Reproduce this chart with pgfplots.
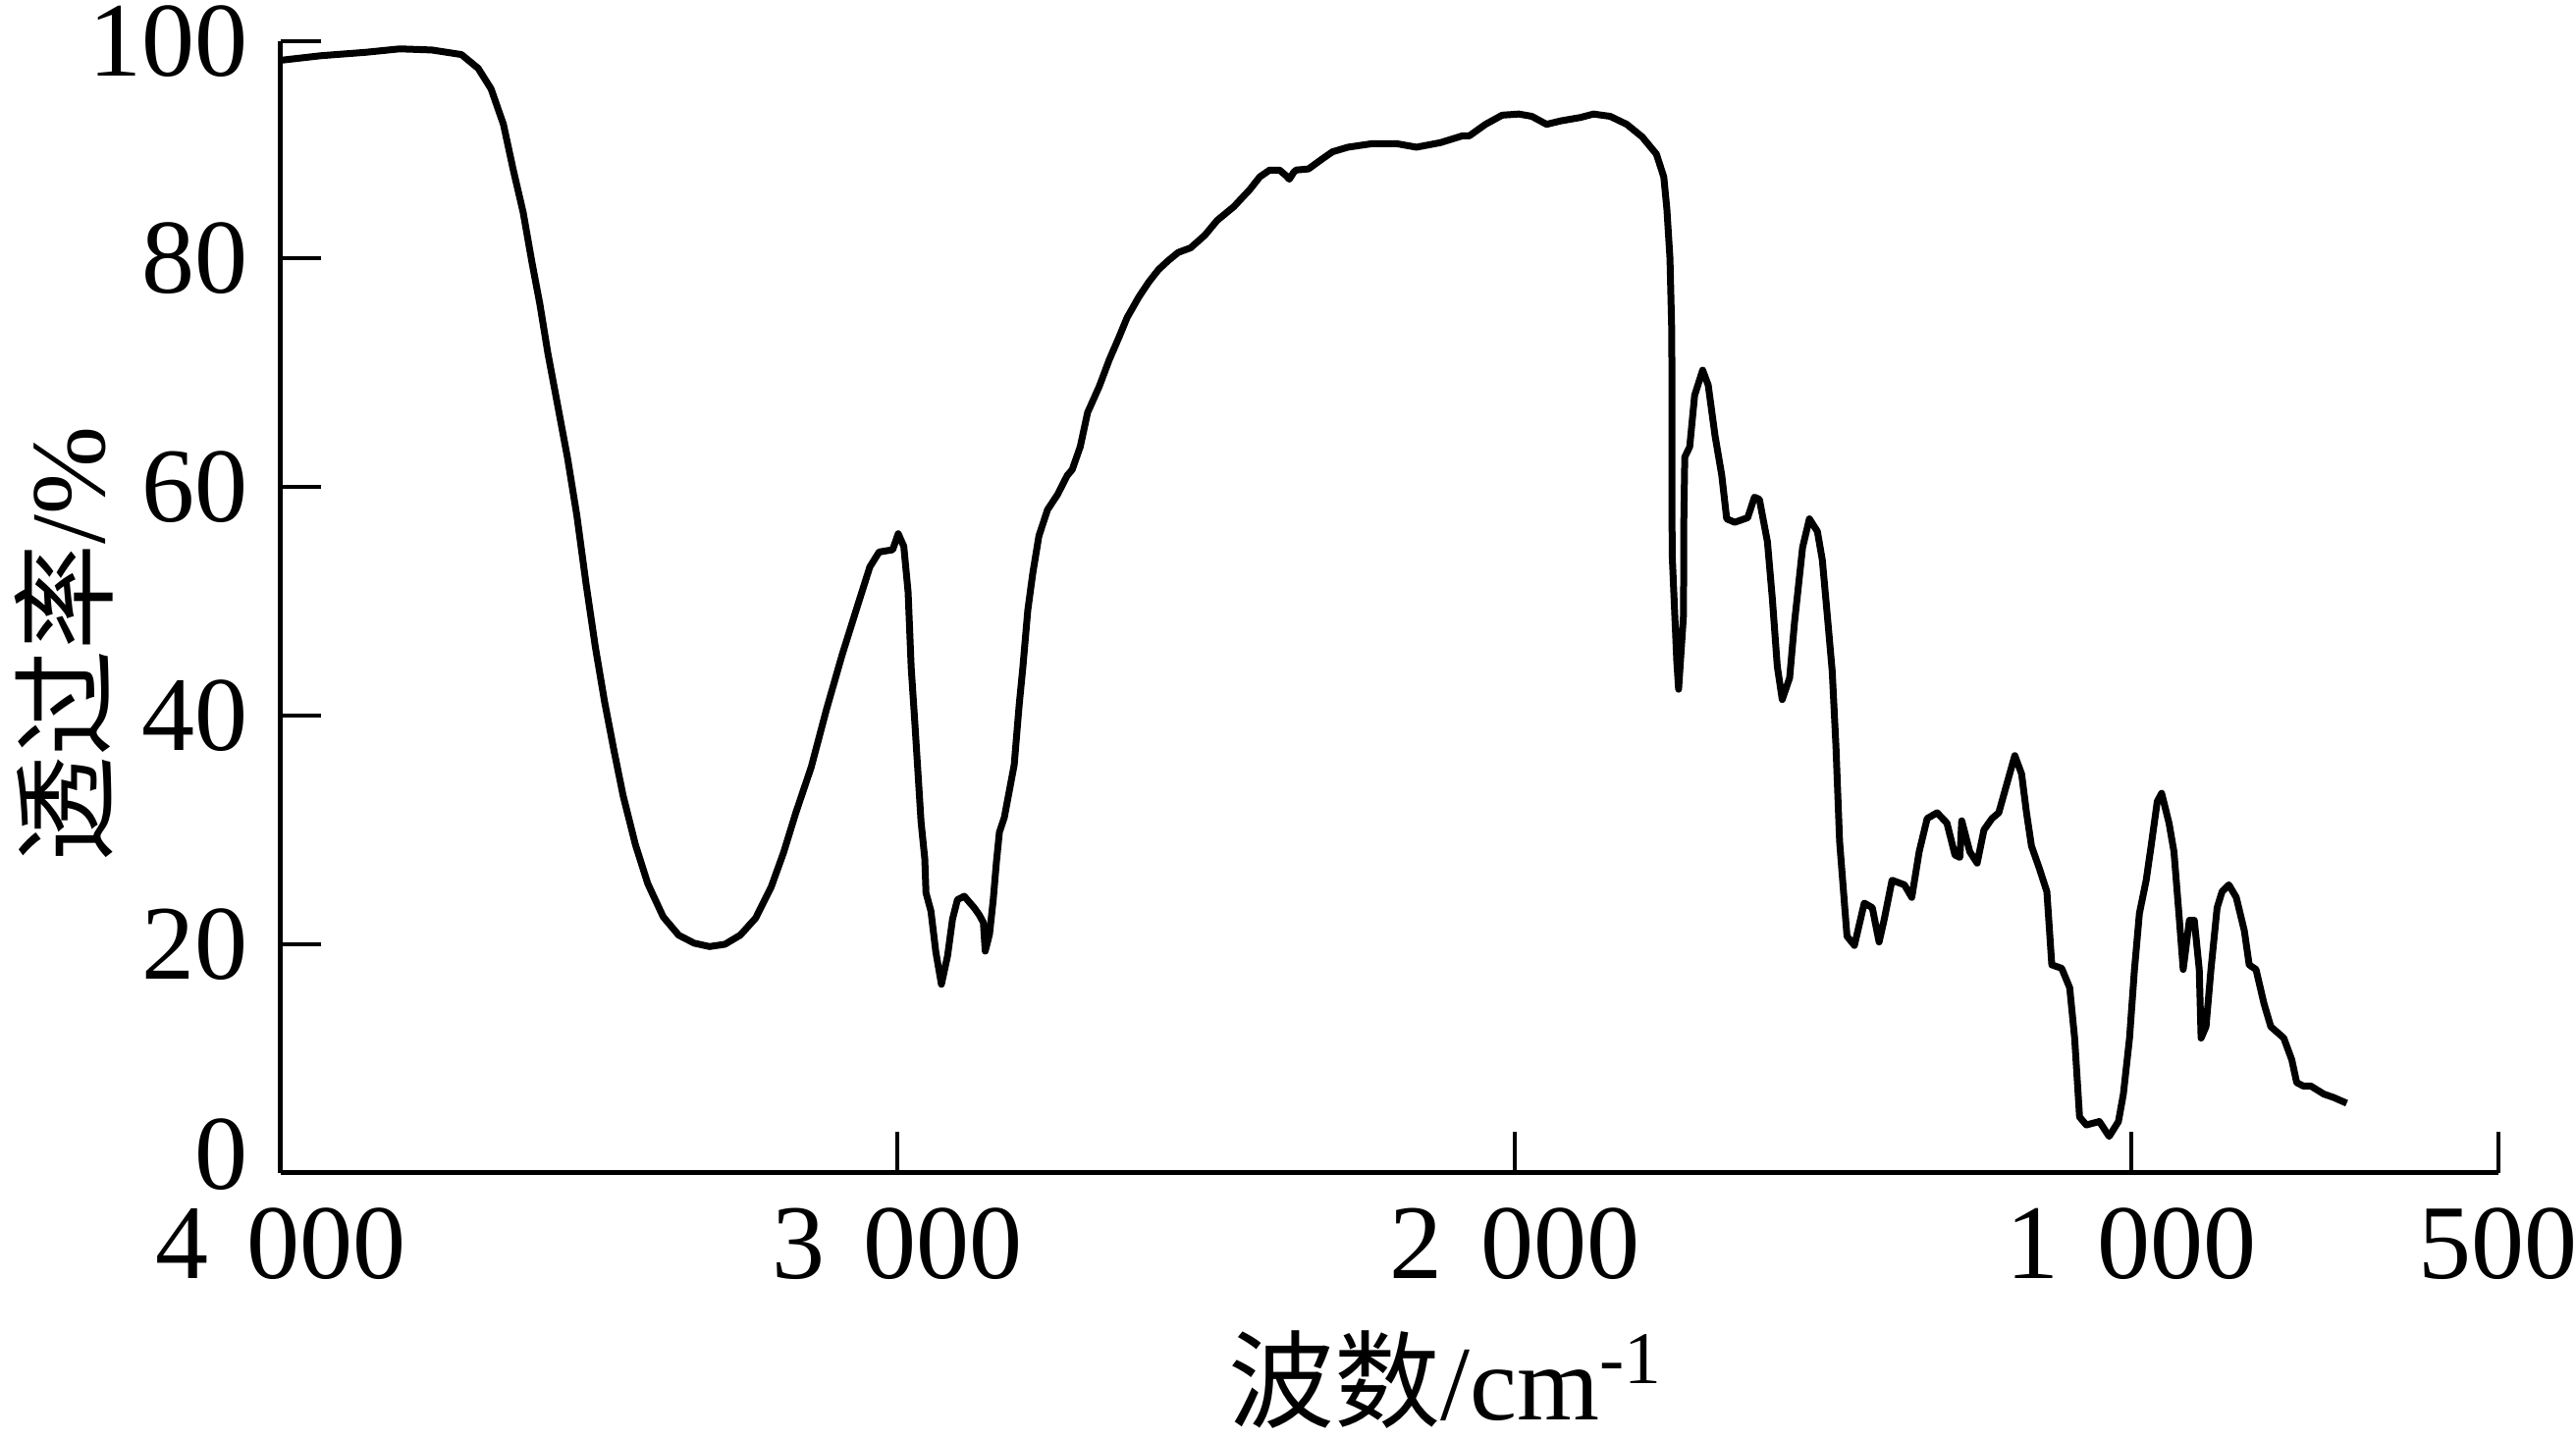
\documentclass[border=0pt]{standalone}
\usepackage{fontspec}
\setmainfont{Liberation Serif}
\newfontfamily\cjk{Noto Sans CJK SC}
\usepackage{pgfplots}
\pgfplotsset{compat=1.18}
\begin{document}
\fontsize{21.6pt}{26pt}\selectfont
\begin{tikzpicture}
\begin{axis}[
  scale only axis,
  width=451.8pt, height=230.6pt,
  x dir=reverse,
  xmin=405, xmax=4000,
  ymin=0, ymax=98.97,
  axis x line=bottom, axis y line=left,
  axis line style={-, line width=1pt},
  tick align=inside,
  major tick length=8.3pt,
  tick style={line width=0.8pt, black},
  xtick={4000,3000,2000,1000,405},
  xticklabels={4\hspace{0.36em}000,3\hspace{0.36em}000,2\hspace{0.36em}000,1\hspace{0.36em}000,500},
  ytick={0,20,40,60,80,98.97},
  yticklabels={\raisebox{4pt}[14.6pt][0pt]{0},20,40,60,80,100},
  minor tick num=0,
  xticklabel style={inner sep=0pt, yshift=-7pt, font=\fontsize{21.6pt}{26pt}\selectfont},
  yticklabel style={inner sep=0pt, xshift=-6.4pt, font=\fontsize{21.6pt}{26pt}\selectfont},
  every axis x label/.style={at={(axis description cs:0.5255,-0.183)}, anchor=center, font=\fontsize{21.6pt}{26pt}\selectfont},
  every axis y label/.style={at={(axis description cs:-0.0978,0.467)}, rotate=90, anchor=center, font=\fontsize{21.6pt}{26pt}\selectfont},
  xlabel={{\cjk 波数}/cm\textsuperscript{-1}},
  ylabel={{\cjk 透过率}/\%},
]
\addplot[black, line width=1.4pt, line join=round, mark=none] coordinates {
(4000,97.3)(3935,97.7)(3862,98.0)(3807,98.3)(3755,98.2)(3707,97.8)(3680,96.6)(3659,94.8)
(3639,91.7)(3623,87.7)(3607,84.0)(3593,79.7)(3580,76.0)(3567,71.7)(3551,67.1)(3535,62.5)
(3520,57.5)(3505,51.5)(3490,46.0)(3475,41.2)(3460,37.0)(3445,33.0)(3425,28.7)(3405,25.3)
(3380,22.4)(3355,20.8)(3330,20.1)(3305,19.8)(3280,20.0)(3255,20.8)(3230,22.3)(3205,25.0)
(3185,28.0)(3165,31.5)(3140,35.5)(3115,40.6)(3090,45.3)(3065,49.6)(3045,53.0)(3030,54.3)
(3008,54.5)(2999,55.9)(2990,54.8)(2983,50.8)(2978,44.2)(2972,39.3)(2967,35.0)(2962,30.7)
(2956,27.5)(2954,24.5)(2946,22.9)(2938,19.3)(2929,16.5)(2919,19.0)(2911,22.2)(2903,23.9)
(2892,24.2)(2876,23.2)(2868,22.6)(2861,21.9)(2858,19.4)(2851,20.9)(2845,23.9)(2840,27.1)
(2835,29.8)(2827,31.1)(2819,33.4)(2811,35.7)(2803,40.9)(2797,44.2)(2789,49.2)(2781,52.4)
(2771,55.7)(2757,58.0)(2741,59.3)(2725,61.0)(2717,61.5)(2704,63.5)(2692,66.5)(2673,68.8)
(2657,71.1)(2641,73.1)(2628,74.8)(2609,76.6)(2593,77.9)(2577,79.0)(2561,79.8)(2545,80.5)
(2525,80.9)(2502,82.0)(2482,83.3)(2455,84.5)(2429,86.0)(2413,87.1)(2397,87.7)(2381,87.7)
(2370,87.2)(2365,86.9)(2358,87.5)(2354,87.7)(2334,87.8)(2311,88.7)(2295,89.3)(2270,89.7)
(2232,90.0)(2190,90.0)(2159,89.7)(2120,90.1)(2084,90.7)(2073,90.7)(2047,91.7)(2020,92.5)
(1993,92.6)(1972,92.4)(1948,91.7)(1925,92.0)(1893,92.3)(1872,92.6)(1845,92.4)(1818,91.7)
(1793,90.6)(1770,89.1)(1758,87.1)(1753,84.3)(1748,80.0)(1745,73.4)(1744.5,54.2)(1737,44.8)
(1734,42.3)(1726,48.8)(1725.5,57.1)(1724,62.6)(1716,63.5)(1708,68.0)(1695,70.2)(1686,68.9)
(1675,64.5)(1664,61.0)(1656,57.2)(1643,56.9)(1622,57.3)(1611,59.1)(1603,58.9)(1590,55.2)
(1582,50.2)(1574,44.3)(1566,41.4)(1554,43.3)(1546,48.2)(1533,54.7)(1522,57.2)(1509,56.1)
(1501,53.6)(1493,48.8)(1485,43.9)(1479,37.4)(1473,29.0)(1461,20.7)(1449,19.9)(1433,23.6)
(1420,23.2)(1409,20.2)(1401,22.1)(1388,25.6)(1368,25.2)(1356,24.1)(1344,28.1)(1331,31.0)
(1315,31.5)(1299,30.6)(1286,27.8)(1278,27.6)(1275,30.8)(1262,28.1)(1250,27.1)(1239,30.0)
(1226,31.0)(1215,31.5)(1202,34.0)(1189,36.5)(1178,34.9)(1170,31.5)(1162,28.6)(1149,26.6)
(1137,24.6)(1129,18.2)(1113,17.9)(1100,16.2)(1092,11.8)(1084,4.9)(1073,4.2)(1052,4.5)
(1036,3.2)(1021,4.5)(1013,6.9)(1003,11.8)(995,17.8)(987,22.7)(976,25.6)(968,28.6)
(958,32.5)(951,33.2)(939,30.6)(931,28.1)(923,22.7)(916,17.8)(906,22.1)(898,22.1)
(890,17.8)(887,11.8)(879,12.8)(871,17.8)(861,23.2)(853,24.6)(842,25.2)(830,24.1)
(817,21.2)(809,18.2)(798,17.8)(785,14.8)(774,12.8)(753,11.8)(740,9.9)(732,7.9)
(721,7.6)(709,7.6)(688,6.9)(672,6.6)(651,6.1)
};
\end{axis}
\pgfresetboundingbox
\path (-57.2pt,-54.4pt) rectangle (467.6pt,239pt);
\end{tikzpicture}
\end{document}
